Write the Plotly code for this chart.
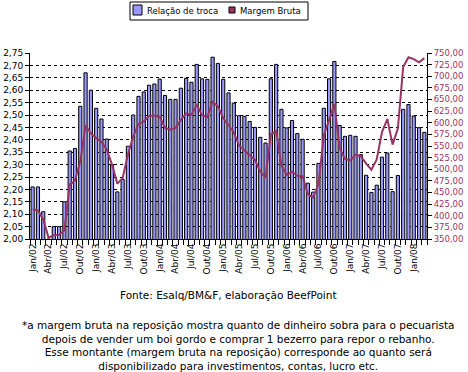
import plotly.graph_objects as go

months = ["Jan", "Fev", "Mar", "Abr", "Mai", "Jun", "Jul", "Ago", "Set", "Out", "Nov", "Dez"]
categories = [f"{m}/{y:02d}" for y in range(2, 9) for m in months][:75]
tick_labels = [c for c in categories if c[:3] in ("Jan", "Abr", "Jul", "Out")]

relacao = [
    2.21, 2.21, 2.11, 2.00, 2.05, 2.05, 2.15, 2.355, 2.365, 2.535, 2.67, 2.60,
    2.527, 2.484, 2.403, 2.30, 2.19, 2.24, 2.374, 2.50, 2.575, 2.593, 2.62, 2.625,
    2.645, 2.579, 2.563, 2.563, 2.608, 2.648, 2.632, 2.704, 2.646, 2.644, 2.733, 2.708,
    2.644, 2.589, 2.548, 2.497, 2.495, 2.474, 2.45, 2.41, 2.387, 2.646, 2.704, 2.523,
    2.448, 2.478, 2.425, 2.402, 2.225, 2.189, 2.305, 2.527, 2.646, 2.716, 2.458, 2.414,
    2.418, 2.414, 2.34, 2.257, 2.188, 2.217, 2.33, 2.347, 2.191, 2.256, 2.523, 2.542,
    2.496, 2.449, 2.43,
]
margem = [
    414, 411, 392, 353, 358, 359, 369, 467, 476, 517, 594, 577,
    567, 559, 542, 510, 469, 481, 531, 571, 597, 603, 615, 615,
    613, 589, 585, 589, 606, 620, 617, 639, 616, 612, 645, 635,
    610, 595, 579, 551, 541, 530, 520, 495, 482, 575, 582, 508,
    488, 494, 486, 485, 446, 439, 468, 572, 605, 640, 545, 522,
    519, 531, 528, 512, 499, 521, 580, 608, 553, 588, 720, 741,
    737, 730, 739,
]
series_names = ["Relação de troca", "Margem Bruta"]

fonte = "Fonte: Esalq/BM&F, elaboração BeefPoint"
nota = ("*a margem bruta na reposição mostra quanto de dinheiro sobra para o pecuarista<br>"
        "depois de vender um boi gordo e comprar 1 bezerro para repor o rebanho.<br>"
        "Esse montante (margem bruta na reposição) corresponde ao quanto será<br>"
        "disponibilizado para investimentos, contas, lucro etc.")

idx = list(range(len(categories)))
tickvals = [i for i, c in enumerate(categories) if c in tick_labels]

FONT = "DejaVu Sans"
PURPLE = "#993366"
BLUE = "#9999FF"

# plot area in pixels
L, R, T, B = 30, 427, 53, 239
W, H = 468, 372


def px(x):
    return (x - L) / (R - L)


def py(y):
    return (B - y) / (B - T)


fig = go.Figure()
fig.add_trace(go.Bar(
    x=idx, y=relacao, name=series_names[0],
    marker=dict(color=BLUE, line=dict(color="black", width=1)),
))
fig.add_trace(go.Scatter(
    x=idx, y=margem, yaxis="y2", mode="lines", name=series_names[1],
    line=dict(color=PURPLE, width=2),
))

shapes = [
    # legend frame
    dict(type="rect", xref="paper", yref="paper", x0=px(130), x1=px(308), y0=py(20), y1=py(2),
         line=dict(color="black", width=1), fillcolor="white", layer="above"),
    dict(type="rect", xref="paper", yref="paper", x0=px(133), x1=px(142), y0=py(15), y1=py(5),
         line=dict(color="black", width=1), fillcolor=BLUE, layer="above"),
    dict(type="rect", xref="paper", yref="paper", x0=px(229), x1=px(235), y0=py(13), y1=py(7),
         line=dict(color="black", width=1), fillcolor=PURPLE, layer="above"),
]

annotations = [
    dict(text=series_names[0], xref="paper", yref="paper", x=px(145), y=py(10.5),
         xanchor="left", yanchor="middle", showarrow=False, font=dict(family=FONT, size=8.5)),
    dict(text=series_names[1], xref="paper", yref="paper", x=px(238), y=py(10.5),
         xanchor="left", yanchor="middle", showarrow=False, font=dict(family=FONT, size=8.5)),
    dict(text=fonte, xref="paper", yref="paper", x=px(228), y=py(295),
         xanchor="center", yanchor="middle", showarrow=False,
         font=dict(family=FONT, size=10.5)),
    dict(text=nota, xref="paper", yref="paper", x=px(238), y=py(345.5),
         xanchor="center", yanchor="middle", showarrow=False, align="center",
         font=dict(family=FONT, size=10.5)),
]

fig.update_layout(
    width=W, height=372,
    margin=dict(l=L, r=W - R, t=T, b=H - B, autoexpand=False),
    paper_bgcolor="white", plot_bgcolor="white",
    separators=",.",
    bargap=0.4,
    font=dict(family=FONT, size=9, color="black"),
    showlegend=False,
    hovermode=False,
    xaxis=dict(
        range=[-0.5, len(categories) - 0.5], automargin=False,
        tickvals=tickvals, ticktext=tick_labels, tickangle=-90,
        ticks="", showline=True, linecolor="black", linewidth=1,
        showgrid=False, zeroline=False,
        tickfont=dict(family=FONT, size=9),
        minor=dict(tickvals=[i - 0.5 for i in range(len(categories) + 1)],
                   ticks="outside", ticklen=5, tickcolor="black", showgrid=False),
    ),
    yaxis=dict(
        range=[2.0, 2.75], tick0=2.0, dtick=0.05, tickformat=".2f", automargin=False,
        showline=True, linecolor="black", linewidth=1,
        ticks="outside", ticklen=4, tickcolor="black",
        showgrid=True, gridcolor="black", griddash="dot", gridwidth=1,
        zeroline=False, tickfont=dict(family=FONT, size=9),
    ),
    yaxis2=dict(
        range=[350, 750], tick0=350, dtick=25, tickformat=".2f", automargin=False,
        overlaying="y", side="right",
        showline=True, linecolor="black", linewidth=1,
        ticks="outside", ticklen=4, tickcolor="black",
        showgrid=False, zeroline=False,
        tickfont=dict(family=FONT, size=8.5, color=PURPLE),
    ),
    shapes=shapes,
    annotations=annotations,
)

fig.write_html(
    "out.html",
    config={"displayModeBar": False},
    post_script="document.body.style.margin='0';document.body.style.overflow='hidden';",
)
